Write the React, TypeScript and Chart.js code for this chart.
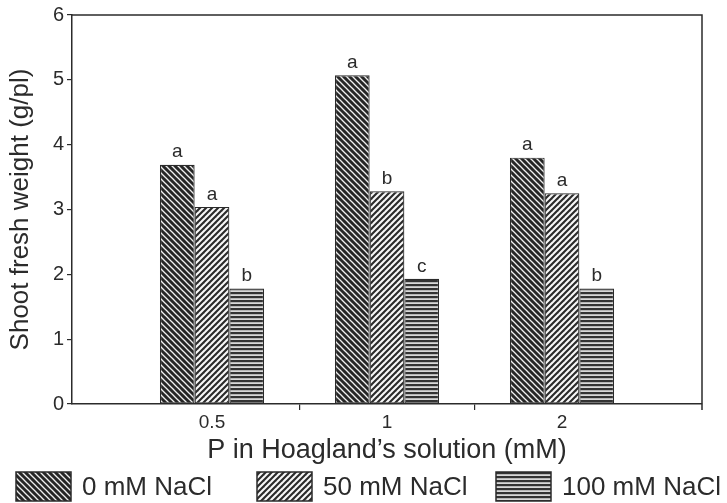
import React, { useEffect, useRef } from 'react';
import { Chart, registerables } from 'chart.js';

Chart.register(...registerables);

// ---- data ----
const categories = ['0.5', '1', '2'];
const seriesNames = ['0 mM NaCl', '50 mM NaCl', '100 mM NaCl'];
const values0 = [3.69, 5.07, 3.8];
const values50 = [3.04, 3.28, 3.25];
const values100 = [1.78, 1.93, 1.78];
const letters0 = ['a', 'a', 'a'];
const letters50 = ['a', 'b', 'a'];
const letters100 = ['b', 'c', 'b'];
const yMin = 0;
const yMax = 6;
const yStep = 1;
const xTitle = 'P in Hoagland\u2019s solution (mM)';
const yTitle = 'Shoot fresh weight (g/pl)';

const INK = '#2b2b2b';
const FONT = '"Liberation Sans", Arial, Helvetica, sans-serif';

function makePattern(kind: 'back' | 'fwd' | 'horiz'): CanvasPattern | string {
  const c = document.createElement('canvas');
  const s = kind === 'horiz' ? 4 : 6;
  c.width = s;
  c.height = s;
  const g = c.getContext('2d');
  if (!g) return '#888';
  if (kind === 'back') {
    g.fillStyle = '#262626';
    g.fillRect(0, 0, s, s);
    g.strokeStyle = '#efefef';
    g.lineWidth = 1.3;
    for (let k = -1; k <= 1; k++) {
      g.beginPath();
      g.moveTo(k * s - 1, -1);
      g.lineTo(k * s + s + 1, s + 1);
      g.stroke();
    }
  } else if (kind === 'fwd') {
    g.fillStyle = '#f8f8f8';
    g.fillRect(0, 0, s, s);
    g.strokeStyle = '#2a2a2a';
    g.lineWidth = 2.1;
    for (let k = -1; k <= 1; k++) {
      g.beginPath();
      g.moveTo(k * s - 1, s + 1);
      g.lineTo(k * s + s + 1, -1);
      g.stroke();
    }
  } else {
    g.fillStyle = '#d8d8d8';
    g.fillRect(0, 0, s, s);
    g.fillStyle = '#333333';
    g.fillRect(0, 0, s, 2.2);
  }
  const p = g.createPattern(c, 'repeat');
  return p || '#888';
}

const frameAndLettersPlugin = {
  id: 'frameAndLetters',
  afterDatasetsDraw(chart: any) {
    const ctx = chart.ctx;
    const letters = [letters0, letters50, letters100];
    ctx.save();
    ctx.fillStyle = INK;
    ctx.font = `19px ${FONT}`;
    ctx.textAlign = 'center';
    ctx.textBaseline = 'bottom';
    chart.data.datasets.forEach((_: any, i: number) => {
      const meta = chart.getDatasetMeta(i);
      meta.data.forEach((bar: any, j: number) => {
        ctx.fillText(letters[i][j], bar.x, bar.y - 3);
      });
    });
    ctx.restore();
  },
  afterDraw(chart: any) {
    const ctx = chart.ctx;
    const a = chart.chartArea;
    ctx.save();
    ctx.strokeStyle = INK;
    ctx.lineWidth = 1.5;
    ctx.beginPath();
    ctx.moveTo(a.left, a.top);
    ctx.lineTo(a.right, a.top);
    ctx.lineTo(a.right, a.bottom + 6);
    ctx.stroke();

    // legend
    const itemX = [16, 257, 496];
    const boxW = 55;
    const boxH = 29;
    const boxY = 472;
    ctx.font = `26px ${FONT}`;
    ctx.textAlign = 'left';
    ctx.textBaseline = 'middle';
    chart.data.datasets.forEach((ds: any, i: number) => {
      const x = itemX[i];
      ctx.fillStyle = ds.backgroundColor;
      ctx.fillRect(x, boxY, boxW, boxH);
      ctx.strokeStyle = INK;
      ctx.lineWidth = 1.5;
      ctx.strokeRect(x, boxY, boxW, boxH);
      ctx.fillStyle = INK;
      ctx.fillText(ds.label, x + boxW + 11, boxY + boxH / 2 + 1);
    });
    ctx.restore();
  },
};

export default function App() {
  const ref = useRef<HTMLCanvasElement | null>(null);

  useEffect(() => {
    document.body.style.margin = '0';
    const canvas = ref.current;
    if (!canvas) return;
    const pats = [makePattern('back'), makePattern('fwd'), makePattern('horiz')];
    const vals = [values0, values50, values100];
    const pad = 0.3;
    const chart = new Chart(canvas, {
      type: 'bar',
      data: {
        labels: categories,
        datasets: seriesNames.map((name, i) => ({
          label: name,
          data: vals[i],
          backgroundColor: pats[i] as any,
          borderColor: INK,
          borderWidth: 1.2,
          borderSkipped: false,
          categoryPercentage: 0.595,
          barPercentage: 1.0,
        })),
      },
      options: {
        responsive: false,
        animation: false,
        devicePixelRatio: 1,
        layout: { padding: { top: 13, right: 25, left: 0, bottom: 0 } },
        plugins: {
          legend: { display: false },
          tooltip: { enabled: false },
        },
        scales: {
          x: {
            type: 'category',
            afterBuildTicks: (scale: any) => {
              scale._startValue = -0.5 - pad;
              scale._valueRange = categories.length + 2 * pad;
            },
            afterFit: (scale: any) => {
              scale.height = 99;
            },
            border: { display: true, color: INK, width: 1.5 },
            grid: {
              offset: true,
              drawOnChartArea: false,
              drawTicks: true,
              tickLength: 6,
              lineWidth: 1.2,
              color: (ctx: any) =>
                ctx.type !== 'tick' || ctx.index === 0 ? 'rgba(0,0,0,0)' : INK,
            },
            ticks: {
              color: INK,
              padding: 1,
              font: { size: 19, family: FONT },
            },
            title: {
              display: true,
              text: xTitle,
              color: INK,
              font: { size: 27, family: FONT },
              padding: { top: 0, bottom: 36 },
            },
          },
          y: {
            min: yMin,
            max: yMax,
            afterFit: (scale: any) => {
              scale.width = 72;
            },
            border: { display: true, color: INK, width: 1.5 },
            grid: {
              drawOnChartArea: false,
              drawTicks: true,
              tickLength: 5,
              lineWidth: 1.2,
              color: INK,
            },
            ticks: {
              stepSize: yStep,
              color: INK,
              padding: 3,
              font: { size: 20, family: FONT },
            },
            title: {
              display: true,
              text: yTitle,
              color: INK,
              font: { size: 26, family: FONT },
              padding: { top: 5, bottom: 0 },
            },
          },
        },
      },
      plugins: [frameAndLettersPlugin],
    });
    return () => chart.destroy();
  }, []);

  return (
    <div style={{ width: 727, height: 503, background: '#fff' }}>
      <canvas ref={ref} width={727} height={503} style={{ display: 'block' }} />
    </div>
  );
}
